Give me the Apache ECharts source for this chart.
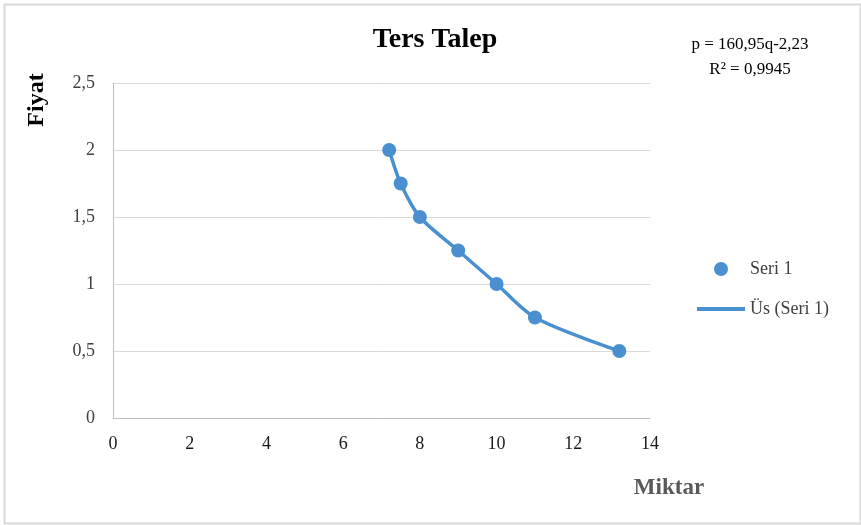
<!DOCTYPE html>
<html><head><meta charset="utf-8">
<script src="https://cdn.jsdelivr.net/npm/echarts@6/dist/echarts.min.js"></script>
<style>html,body{margin:0;padding:0;background:#fff}#c{width:861px;height:525px}</style>
</head><body><div id="c"></div>
<script>
const miktar = [7.2, 7.5, 8, 9, 10, 11, 13.2];
const fiyat = [2, 1.75, 1.5, 1.25, 1, 0.75, 0.5];
const titleText = 'Ters Talep';
const equationLines = ['p = 160,95q-2,23', 'R² = 0,9945'];
const xAxisName = 'Miktar';
const yAxisName = 'Fiyat';
const seriesName = 'Seri 1';
const trendName = 'Üs (Seri 1)';
const xTicks = [0, 2, 4, 6, 8, 10, 12, 14];
const yTicks = [0, 0.5, 1, 1.5, 2, 2.5];

const pts = miktar.map((x, i) => [x, fiyat[i]]);
const serif = '"Liberation Serif", "DejaVu Serif", serif';
const fmt = v => String(v).replace('.', ',');
const blue = '#4a90d0';
const chart = echarts.init(document.getElementById('c'));
chart.setOption({
  animation: false,
  backgroundColor: '#fff',
  title: {text: titleText, left: 430, top: 21, textAlign: 'center',
    textStyle: {fontFamily: serif, fontWeight: 'bold', fontSize: 28, color: '#000'}},
  grid: {left: 113, right: 211, top: 83, bottom: 107, containLabel: false, outerBoundsMode: 'none'},
  xAxis: {type: 'value', min: xTicks[0], max: xTicks[xTicks.length - 1], interval: 2,
    axisLine: {show: true, lineStyle: {color: '#bfbfbf', width: 1}},
    axisTick: {show: false}, splitLine: {show: false},
    axisLabel: {fontFamily: serif, fontSize: 18, color: '#1a1a1a', margin: 17, formatter: v => fmt(v)}},
  yAxis: {type: 'value', min: yTicks[0], max: yTicks[yTicks.length - 1], interval: 0.5,
    axisLine: {show: true, lineStyle: {color: '#bfbfbf', width: 1}},
    axisTick: {show: false},
    splitLine: {show: true, lineStyle: {color: '#d9d9d9', width: 1}},
    axisLabel: {fontFamily: serif, fontSize: 18, color: '#404040', margin: 18, formatter: v => fmt(v)}},
  legend: {orient: 'vertical', left: 697, top: 260, padding: 0, itemGap: 22, itemWidth: 48, itemHeight: 14,
    textStyle: {fontFamily: serif, fontSize: 18, color: '#404040'},
    data: [{name: seriesName, icon: 'circle'},
           {name: trendName, icon: 'path://M0,0L48,0L48,4L0,4Z', itemStyle: {color: blue, borderWidth: 0}}]},
  graphic: [
    {type: 'rect', left: 2, top: 2, shape: {width: 856, height: 519},
      style: {fill: 'none', stroke: '#d9d9d9', lineWidth: 2}, silent: true},
    {type: 'text', position: [750, 45], style: {text: equationLines[0], font: '17px ' + serif, fill: '#000', textAlign: 'center', textVerticalAlign: 'middle'}},
    {type: 'text', position: [750, 70], style: {text: equationLines[1], font: '17px ' + serif, fill: '#000', textAlign: 'center', textVerticalAlign: 'middle'}},
    {type: 'text', position: [669, 488], style: {text: xAxisName, font: 'bold 23px ' + serif, fill: '#595959', textAlign: 'center', textVerticalAlign: 'middle'}},
    {type: 'text', position: [37, 100], rotation: Math.PI / 2,
      style: {text: yAxisName, font: 'bold 24px ' + serif, fill: '#000', textAlign: 'center', textVerticalAlign: 'middle'}}
  ],
  series: [
    {name: trendName, type: 'line', data: pts, smooth: 0.3, symbol: 'none',
      lineStyle: {color: blue, width: 3.5}, itemStyle: {color: blue}, z: 2},
    {name: seriesName, type: 'scatter', data: pts, symbolSize: 14,
      itemStyle: {color: blue, opacity: 1}, z: 3}
  ]
});
</script></body></html>
